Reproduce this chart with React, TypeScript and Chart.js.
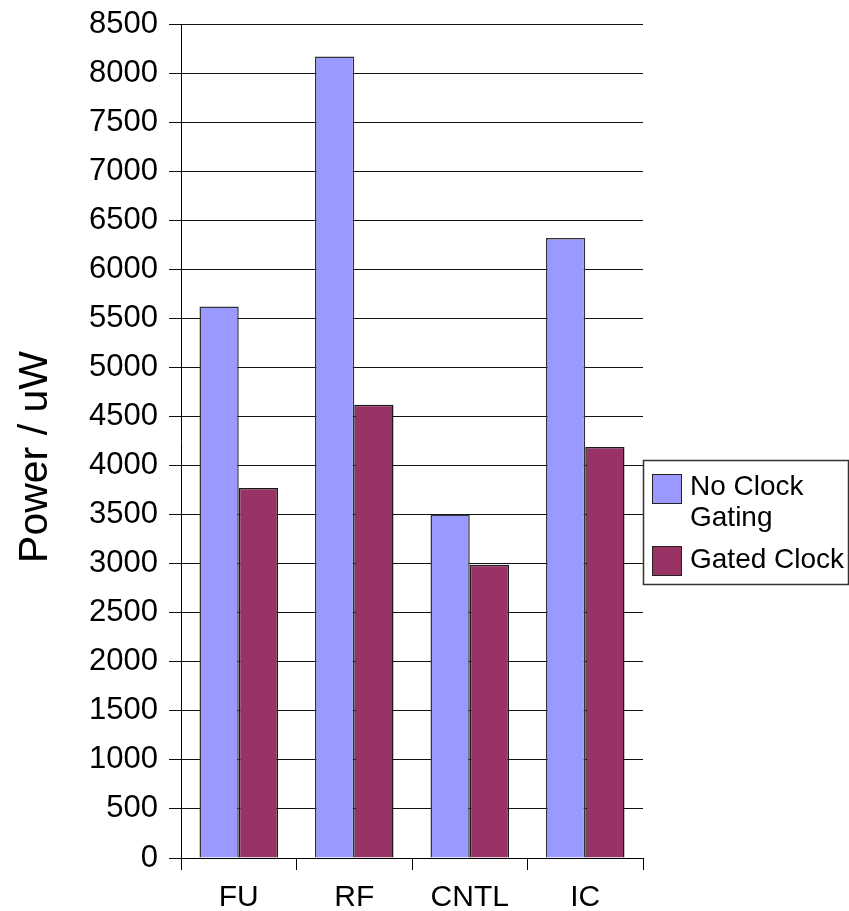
import React, { useEffect, useRef } from "react";
import { Chart, registerables } from "chart.js";

Chart.register(...registerables);

const categories = ["FU", "RF", "CNTL", "IC"];
const noClockGating = [5620, 8170, 3500, 6320];
const gatedClock = [3770, 4620, 2990, 4190];
const seriesNames = [["No Clock", "Gating"], ["Gated Clock"]];
const yTitle = "Power / uW";

const FONT = "'Liberation Sans', Arial, sans-serif";
const BLUE = "#9999FF";
const PLUM = "#993366";

// Legend box and rotated axis title, painted after the chart.
const decorations = {
  id: "decorations",
  afterDraw(chart: any) {
    const ctx = chart.ctx as CanvasRenderingContext2D;
    const area = chart.chartArea;
    ctx.save();

    // y axis title
    ctx.save();
    ctx.translate(47, (area.top + area.bottom) / 2 + 16);
    ctx.rotate(-Math.PI / 2);
    ctx.font = `41px ${FONT}`;
    ctx.fillStyle = "#000";
    ctx.textAlign = "center";
    ctx.textBaseline = "alphabetic";
    ctx.fillText(yTitle, 0, 0);
    ctx.restore();

    // legend
    const lx = area.right + 0.5;
    const ly = 460.5;
    const lw = 205;
    const lh = 124;
    ctx.fillStyle = "#fff";
    ctx.fillRect(lx, ly, lw, lh);
    ctx.strokeStyle = "#333";
    ctx.lineWidth = 1.5;
    ctx.strokeRect(lx, ly, lw, lh);

    const colors = [BLUE, PLUM];
    const swatchY = [474, 546];
    const textY = [[487, 518], [560]];
    ctx.font = `28px ${FONT}`;
    ctx.textAlign = "left";
    ctx.textBaseline = "middle";
    for (let i = 0; i < 2; i++) {
      ctx.fillStyle = colors[i];
      ctx.fillRect(652, swatchY[i], 29, 29);
      ctx.strokeStyle = "#222";
      ctx.lineWidth = 1;
      ctx.strokeRect(652.5, swatchY[i] + 0.5, 29, 29);
      ctx.fillStyle = "#000";
      seriesNames[i].forEach((line, j) => ctx.fillText(line, 690, textY[i][j]));
    }
    ctx.restore();
  },
};

export default function App() {
  const ref = useRef<HTMLCanvasElement | null>(null);

  useEffect(() => {
    if (!ref.current) return;
    const chart = new Chart(ref.current, {
      type: "bar",
      data: {
        labels: categories,
        datasets: [
          {
            label: seriesNames[0].join(" "),
            data: noClockGating,
            backgroundColor: BLUE,
            borderColor: "#333",
            borderWidth: 1.5,
          },
          {
            label: seriesNames[1].join(" "),
            data: gatedClock,
            backgroundColor: PLUM,
            borderColor: "#1a1a1a",
            borderWidth: 1.5,
          },
        ],
      },
      options: {
        responsive: false,
        animation: false,
        devicePixelRatio: 1,
        layout: { padding: { top: 24, right: 206, bottom: 0, left: 0 } },
        datasets: { bar: { categoryPercentage: 0.68, barPercentage: 1 } },
        plugins: {
          legend: { display: false },
          tooltip: { enabled: false },
        },
        scales: {
          x: {
            grid: {
              drawOnChartArea: false,
              drawTicks: true,
              tickLength: 12,
              color: "#000",
              offset: true,
            },
            border: { display: true, color: "#000", width: 1 },
            ticks: {
              color: "#000",
              font: { family: FONT, size: 30 },
              padding: 10,
              maxRotation: 0,
            },
            afterFit(scale: any) {
              scale.height = 53;
              scale.paddingLeft = 0;
              scale.paddingRight = 0;
            },
          },
          y: {
            min: 0,
            max: 8500,
            grid: {
              color: "#111",
              lineWidth: 1,
              drawTicks: true,
              tickLength: 12,
            },
            border: { display: true, color: "#000", width: 1 },
            ticks: {
              stepSize: 500,
              color: "#000",
              font: { family: FONT, size: 31 },
              padding: 11,
              callback: (v: any) => String(v),
            },
            afterFit(scale: any) {
              scale.width = 181;
              scale.paddingTop = 0;
              scale.paddingBottom = 0;
            },
          },
        },
      },
      plugins: [decorations],
    });
    return () => chart.destroy();
  }, []);

  return (
    <div style={{ position: "fixed", left: 0, top: 0, width: 849, height: 911, background: "#fff" }}>
      <canvas ref={ref} width={849} height={911} />
    </div>
  );
}
